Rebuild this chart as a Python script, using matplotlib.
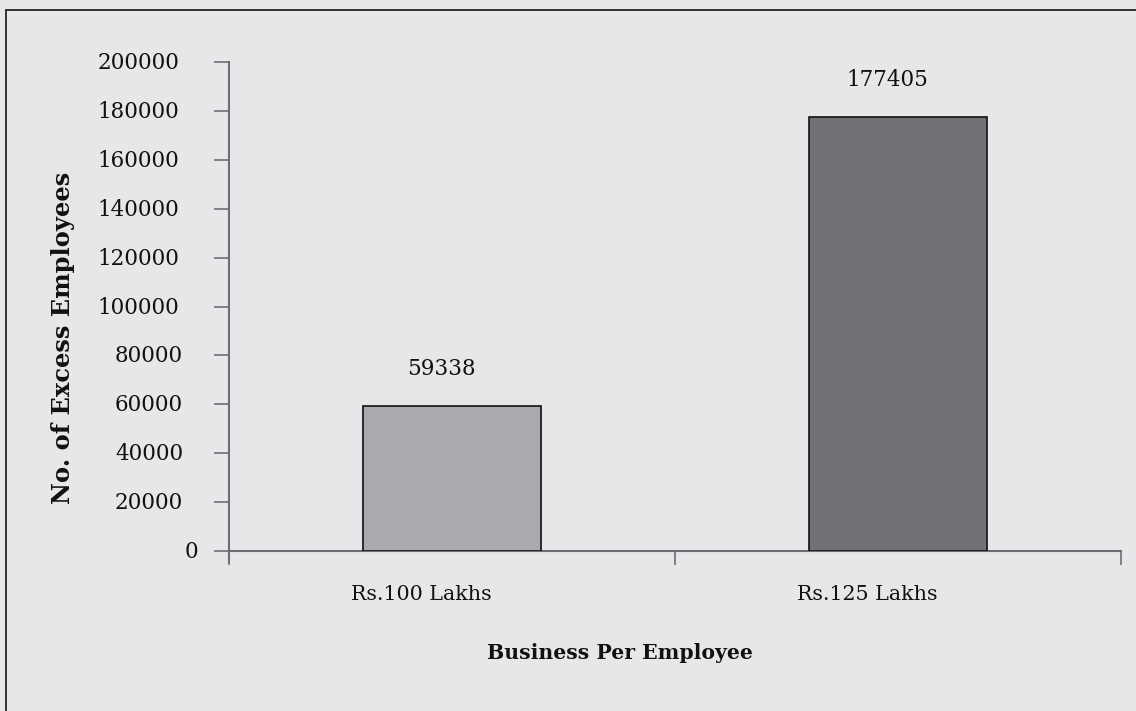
import matplotlib
matplotlib.use("Agg")
import matplotlib.pyplot as plt
from matplotlib.patches import Rectangle

categories = ["Rs.100 Lakhs", "Rs.125 Lakhs"]
excess_employees = [59338, 177405]
bar_colors = ["#a9aaad", "#717275"]
y_ticks = [0, 20000, 40000, 60000, 80000, 100000, 120000, 140000, 160000, 180000, 200000]

BG = "#e6e7e9"
AXIS = "#6d6e71"
TEXT = "#111111"

plt.rcParams["font.family"] = ["DejaVu Serif"]

W, H = 1136, 711
fig = plt.figure(figsize=(W / 100, H / 100), dpi=100)
fig.patch.set_facecolor(BG)

# outer frame (open at right and bottom)
fig.add_artist(Rectangle((5.5 / W, -0.1), 1.2, 1 - 9.5 / H + 0.1,
                         transform=fig.transFigure, fill=False,
                         edgecolor="#333333", linewidth=1.4))

ax = fig.add_axes([229 / W, 1 - 551 / H, (1121 - 229) / W, (551 - 62) / H])
ax.set_facecolor(BG)

x = list(range(len(categories)))
ax.bar(x, excess_employees, width=0.4, color=bar_colors,
       edgecolor=TEXT, linewidth=1.2, zorder=3)

ax.set_xlim(-0.5, len(categories) - 0.5)
ax.set_ylim(0, 200000)
ax.set_yticks(y_ticks)
ax.set_xticks([-0.5, 0.5, 1.5])

for s in ["top", "right"]:
    ax.spines[s].set_visible(False)
for s in ["left", "bottom"]:
    ax.spines[s].set_color(AXIS)
    ax.spines[s].set_linewidth(1.5)
ax.tick_params(axis="y", direction="out", length=11, width=1.2, color=AXIS,
               labelleft=False)
ax.tick_params(axis="x", direction="out", length=10, width=1.2, color=AXIS,
               labelbottom=False)
# y axis line continues a little below zero
ax.plot([-0.5, -0.5], [0, -0.022], transform=ax.get_xaxis_transform(),
        color=AXIS, lw=1.5, clip_on=False)

# y tick labels (right edge shifts slightly with label length)
right_edge = {6: -50, 5: -46, 1: -31}
for v in y_ticks:
    s = str(v)
    ax.annotate(s, xy=(0, v), xycoords=("axes fraction", "data"),
                xytext=(right_edge.get(len(s), -46), -1), textcoords="offset pixels",
                ha="right", va="center", fontsize=15.5, color=TEXT)

# category labels
for xi, name in zip(x, categories):
    ax.annotate(name, xy=(xi, 0), xycoords=("data", "axes fraction"),
                xytext=(-31, -44), textcoords="offset pixels",
                ha="center", va="center", fontsize=14.85, color=TEXT)

# value labels
for xi, v in zip(x, excess_employees):
    ax.annotate(str(v), xy=(xi, v), xytext=(-11, 37), textcoords="offset pixels",
                ha="center", va="center", fontsize=15.5, color=TEXT)

fig.text(620 / W, 1 - 653 / H, "Business Per Employee", ha="center", va="center",
         fontsize=14.7, fontweight="bold", color=TEXT)
fig.text(63 / W, 1 - 338 / H, "No. of Excess Employees", ha="center", va="center",
         rotation=90, fontsize=17.4, fontweight="bold", color=TEXT)

fig.savefig("out.png", dpi=100, facecolor=BG)
